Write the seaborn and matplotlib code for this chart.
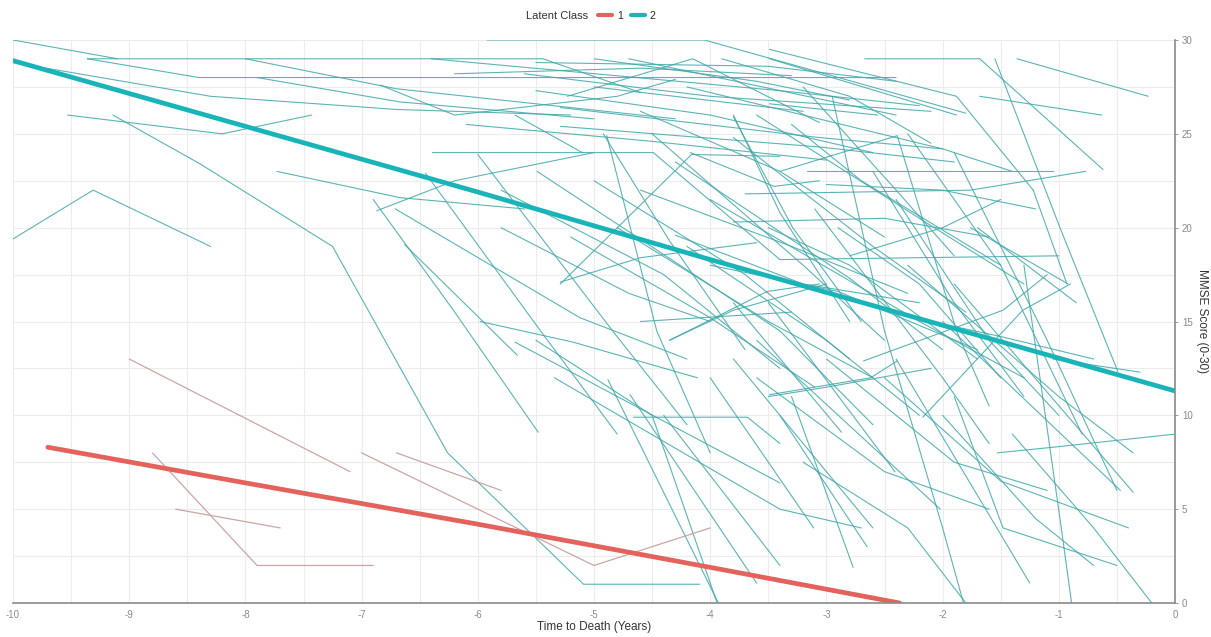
import numpy as np
import pandas as pd
import matplotlib
matplotlib.use("Agg")
import matplotlib.pyplot as plt
from matplotlib.lines import Line2D
import seaborn as sns

# Class-average MMSE trajectories
class1_mean_time = [-9.7, -8.0, -6.0, -4.0, -2.37]
class1_mean_mmse = [8.3, 6.4, 4.2, 1.9, 0.0]
class2_mean_time = [-10.0, -8.0, -6.0, -4.0, -2.0, 0.0]
class2_mean_mmse = [28.9, 25.4, 21.9, 18.3, 14.8, 11.3]

# Individual trajectories, one list of (years to death, MMSE) visits per person
class1_subjects = [
    [(-9.0, 13.0), (-7.1, 7.0)],
    [(-8.8, 8.0), (-7.9, 2.0), (-6.9, 2.0)],
    [(-8.6, 5.0), (-7.7, 4.0)],
    [(-7.0, 8.0), (-5.0, 2.0), (-4.0, 4.0)],
    [(-6.7, 8.0), (-5.8, 6.0)],
]

class2_upper = [
    [(-10.0, 30.0), (-9.1, 29.0)],
    [(-9.36, 29.0), (-5.44, 29.0), (-4.6, 27.2)],
    [(-10.0, 28.8), (-8.3, 27.0), (-6.7, 26.3), (-5.2, 26.0)],
    [(-9.36, 29.0), (-8.4, 28.0), (-2.4, 28.0)],
    [(-8.0, 29.0), (-6.7, 27.4), (-4.3, 25.8)],
    [(-7.9, 28.0), (-6.67, 26.7), (-5.0, 25.8)],
    [(-9.53, 26.0), (-8.2, 25.0), (-7.43, 26.0)],
    [(-5.92, 30.0), (-4.05, 30.0), (-1.8, 26.1)],
    [(-6.4, 29.0), (-3.4, 27.3), (-2.2, 26.5)],
    [(-5.23, 27.0), (-4.15, 29.0), (-3.06, 25.6)],
    [(-6.84, 27.6), (-6.2, 26.0), (-4.8, 27.0), (-4.3, 27.9)],
    [(-2.67, 29.0), (-1.68, 29.0), (-0.62, 23.1)],
    [(-1.55, 29.0), (-0.99, 20.0), (-0.49, 12.3)],
    [(-1.36, 29.0), (-0.23, 27.0)],
    [(-1.68, 27.0), (-0.63, 26.0)],
    [(-3.49, 29.5), (-1.88, 27.0), (-1.22, 22.0)],
    [(-3.49, 29.0), (-1.88, 26.0)],
    [(-3.49, 26.6), (-2.56, 26.0)],
    [(-5.6, 28.2), (-4.0, 27.0), (-2.1, 26.2)],
    [(-5.5, 28.8), (-3.5, 28.6), (-2.4, 27.8)],
    [(-4.7, 29.0), (-2.4, 26.0)],
    [(-5.0, 27.5), (-3.2, 26.2)],
    [(-6.1, 25.5), (-4.5, 24.6), (-3.0, 23.6)],
    [(-4.2, 27.5), (-2.0, 24.2), (-1.4, 23.0)],
    [(-5.68, 26.0), (-5.1, 24.0)],
    [(-2.95, 27.0), (-2.5, 14.5), (-2.0, 4.0), (-1.82, 0.0)],
    [(-5.29, 26.4), (-3.06, 24.8), (-2.0, 24.2)],
    [(-5.29, 25.4), (-3.06, 24.3), (-1.9, 23.5)],
    [(-3.2, 27.5), (-2.4, 22.0), (-1.9, 18.5)],
    [(-4.6, 26.2), (-3.4, 23.0), (-2.5, 19.5)],
    [(-5.5, 27.3), (-4.0, 26.0), (-2.6, 24.0)],
    [(-3.9, 29.0), (-2.8, 27.0), (-2.1, 24.5)],
    [(-6.2, 28.2), (-4.6, 28.5), (-3.3, 28.1)],
    [(-5.0, 29.0), (-3.6, 27.8), (-2.8, 26.8)],
]

class2_middle = [
    [(-10.0, 19.4), (-9.31, 22.0), (-8.3, 19.0)],
    [(-9.14, 26.0), (-8.39, 23.4), (-7.25, 19.0), (-6.26, 8.0), (-5.09, 1.0), (-4.09, 1.0)],
    [(-7.73, 23.0), (-6.67, 21.6), (-5.6, 21.0)],
    [(-6.87, 20.9), (-6.2, 22.5), (-5.0, 24.0)],
    [(-3.17, 23.0), (-1.05, 23.0)],
    [(-3.7, 21.8), (-1.76, 22.0), (-0.77, 23.0)],
    [(-3.4, 23.0), (-2.39, 24.9), (-1.88, 14.5), (-1.6, 10.5)],
    [(-6.39, 24.0), (-4.49, 24.0), (-3.4, 18.3)],
    [(-5.29, 17.0), (-4.16, 23.9), (-3.4, 23.8)],
    [(-6.71, 21.0), (-5.12, 15.2), (-4.2, 13.0)],
    [(-6.63, 19.1), (-5.66, 13.2)],
    [(-6.9, 21.5), (-6.21, 15.6), (-5.48, 9.1)],
    [(-5.98, 15.0), (-5.18, 13.9), (-4.11, 12.0)],
    [(-6.0, 23.9), (-4.84, 14.5), (-4.2, 9.5)],
    [(-6.45, 22.9), (-5.46, 14.5), (-4.8, 9.0)],
    [(-5.49, 23.0), (-3.4, 14.5), (-2.6, 9.5)],
    [(-4.35, 14.0), (-3.8, 15.6), (-3.0, 17.0)],
    [(-3.8, 26.0), (-3.4, 20.8), (-2.8, 15.0)],
    [(-4.89, 24.9), (-4.46, 14.5), (-4.0, 8.0)],
    [(-4.5, 25.0), (-3.2, 18.0), (-2.5, 14.0)],
    [(-4.3, 23.5), (-2.8, 17.3), (-2.0, 13.5)],
    [(-4.0, 21.5), (-2.2, 15.0), (-1.3, 12.0)],
    [(-3.8, 24.8), (-2.6, 19.0), (-1.8, 15.5)],
    [(-3.6, 26.0), (-2.2, 20.5), (-1.3, 17.0)],
    [(-3.3, 25.5), (-2.7, 22.5), (-1.5, 18.0)],
    [(-5.0, 22.5), (-3.7, 17.5), (-2.8, 13.0)],
    [(-4.8, 20.0), (-3.5, 15.0), (-2.6, 12.0)],
    [(-3.1, 21.0), (-2.0, 12.0), (-1.6, 8.5)],
    [(-2.6, 23.0), (-1.9, 16.0), (-1.3, 11.0)],
    [(-2.4, 21.5), (-1.6, 14.0), (-1.0, 10.0)],
    [(-3.5, 20.0), (-2.8, 18.0), (-1.7, 13.0)],
    [(-4.0, 18.0), (-2.9, 16.6), (-1.7, 13.5)],
    [(-2.1, 15.0), (-1.5, 14.2), (-0.7, 13.0)],
    [(-2.3, 25.0), (-1.5, 18.0), (-0.8, 9.0)],
    [(-1.9, 24.0), (-1.1, 14.0), (-0.5, 6.0)],
    [(-4.3, 19.6), (-3.2, 17.0), (-2.2, 16.0)],
    [(-3.0, 22.3), (-2.0, 22.0), (-1.2, 21.0)],
    [(-3.8, 20.3), (-2.5, 20.5), (-1.6, 19.5)],
    [(-2.8, 18.5), (-2.0, 20.0), (-1.5, 21.5)],
    [(-3.4, 18.3), (-1.0, 18.5)],
    [(-1.22, 22.0), (-0.93, 17.0)],
    [(-1.76, 20.0), (-0.92, 17.0)],
    [(-1.7, 20.0), (-0.85, 16.0)],
    [(-2.68, 12.9), (-1.48, 15.6), (-1.1, 17.5)],
    [(-2.17, 9.9), (-1.31, 15.6), (-0.9, 17.0)],
    [(-4.6, 15.0), (-3.3, 15.5)],
    [(-1.05, 13.0), (-0.3, 12.3)],
    [(-4.92, 25.0), (-4.35, 19.3), (-3.7, 13.5)],
    [(-4.17, 24.0), (-3.45, 22.2), (-3.06, 22.5)],
    [(-3.8, 25.9), (-3.29, 20.0), (-2.7, 15.0)],
    [(-4.35, 14.0), (-3.51, 16.6), (-3.06, 17.0)],
    [(-5.29, 17.1), (-4.6, 18.4), (-3.6, 19.2)],
    [(-5.8, 22.0), (-4.4, 17.5), (-3.4, 12.5)],
    [(-5.2, 19.5), (-4.0, 15.2), (-3.1, 11.5)],
    [(-4.6, 22.0), (-3.3, 19.0), (-2.3, 16.5)],
    [(-4.2, 19.0), (-3.0, 14.0), (-2.2, 10.0)],
    [(-5.8, 20.0), (-4.7, 16.5), (-4.0, 15.0)],
    [(-2.9, 20.0), (-2.2, 17.0), (-1.5, 12.0)],
]

class2_lower = [
    [(-4.88, 11.9), (-3.93, 0.0)],
    [(-4.69, 11.1), (-3.6, 1.06)],
    [(-4.66, 9.9), (-3.68, 9.9), (-3.4, 8.5)],
    [(-5.68, 13.9), (-3.4, 6.4)],
    [(-5.34, 12.0), (-3.4, 5.0), (-2.7, 4.0)],
    [(-5.5, 14.0), (-4.5, 10.0), (-3.94, 0.0)],
    [(-3.3, 11.0), (-2.77, 1.9)],
    [(-1.9, 11.0), (-1.48, 4.0), (-0.5, 2.0)],
    [(-1.3, 18.0), (-0.99, 4.5), (-0.89, 0.0)],
    [(-1.53, 8.0), (-1.05, 8.3), (0.0, 9.0)],
    [(-3.49, 11.1), (-2.62, 12.0), (-2.39, 12.9)],
    [(-1.9, 17.0), (-0.36, 5.9)],
    [(-2.0, 15.0), (-0.47, 6.0)],
    [(-2.3, 18.0), (-1.0, 11.0), (-0.36, 8.0)],
    [(-3.8, 13.0), (-2.6, 4.0)],
    [(-3.6, 14.0), (-2.02, 5.0)],
    [(-2.4, 13.0), (-1.25, 1.06)],
    [(-4.4, 10.0), (-3.4, 2.0)],
    [(-4.0, 12.0), (-3.11, 4.0)],
    [(-3.4, 10.0), (-2.65, 3.0)],
    [(-3.5, 16.0), (-2.41, 7.0)],
    [(-3.8, 16.0), (-2.87, 9.1)],
    [(-3.6, 12.0), (-2.5, 7.0), (-1.6, 5.0)],
    [(-3.0, 13.0), (-1.9, 7.5), (-1.1, 6.0)],
    [(-2.5, 12.0), (-1.5, 6.5), (-0.4, 4.0)],
    [(-2.0, 10.0), (-1.2, 4.5), (-0.7, 2.0)],
    [(-1.4, 9.0), (-0.7, 4.0), (-0.2, 0.0)],
    [(-3.2, 7.5), (-2.3, 4.0), (-1.8, 0.0)],
    [(-3.5, 11.0), (-3.0, 11.5), (-2.1, 12.5)],
]


def to_long(paths, latent_class, start_id):
    rows = []
    for i, path in enumerate(paths):
        for t, score in path:
            rows.append({"subject": start_id + i, "time": t, "mmse": score,
                         "latent_class": latent_class})
    return rows


rows = to_long(class1_subjects, "1", 0)
rows += to_long(class2_upper + class2_middle + class2_lower, "2", 1000)
indiv = pd.DataFrame(rows)

means = pd.DataFrame({
    "time": class1_mean_time + class2_mean_time,
    "mmse": class1_mean_mmse + class2_mean_mmse,
    "latent_class": ["1"] * len(class1_mean_time) + ["2"] * len(class2_mean_time),
})

sns.set_theme(style="white")
plt.rcParams["font.family"] = ["Liberation Sans", "DejaVu Sans"]

fig = plt.figure(figsize=(12.11, 6.37), dpi=100)
ax = fig.add_axes([13 / 1211, 1 - 603 / 637, (1175 - 13) / 1211, (603 - 40) / 637])

thin_palette = {"1": "#c9a1a1", "2": "#3fa7a9"}
mean_palette = {"1": "#e3625c", "2": "#18b4b8"}

sns.lineplot(data=indiv[indiv.latent_class == "2"], x="time", y="mmse",
             units="subject", estimator=None, sort=False,
             color=thin_palette["2"], linewidth=0.8, alpha=0.85, ax=ax, legend=False)
sns.lineplot(data=indiv[indiv.latent_class == "1"], x="time", y="mmse",
             units="subject", estimator=None, sort=False,
             color=thin_palette["1"], linewidth=0.9, alpha=0.95, ax=ax, legend=False)
sns.lineplot(data=means, x="time", y="mmse", hue="latent_class",
             palette=mean_palette, estimator=None, sort=False,
             linewidth=3.4, ax=ax, legend=False)

ax.set_xlim(-10, 0)
ax.set_ylim(0, 30)
ax.set_xticks(np.arange(-10, 1, 1))
ax.set_xticklabels([str(v) for v in range(-10, 1)])
ax.set_xticks(np.arange(-10, 0.01, 0.5), minor=True)
ax.set_yticks(np.arange(0, 31, 5))
ax.set_yticks(np.arange(0, 30.01, 2.5), minor=True)

ax.grid(True, which="both", color="#ececec", linewidth=0.8)
ax.set_axisbelow(True)

ax.yaxis.tick_right()
ax.yaxis.set_label_position("right")
for side in ("left", "top"):
    ax.spines[side].set_visible(False)
for side in ("right", "bottom"):
    ax.spines[side].set_color("#8a8a8a")
    ax.spines[side].set_linewidth(1.2)

ax.tick_params(axis="both", which="major", labelsize=7, colors="#8a8a8a",
               length=2, width=0.6, pad=3)
ax.tick_params(axis="both", which="minor", length=0)

ax.set_xlabel("Time to Death (Years)", fontsize=8.5, color="#333333", labelpad=1)
ax.set_ylabel("MMSE Score (0-30)", fontsize=8.5, color="#333333",
              rotation=270, labelpad=11)

fig.text(588 / 1211, 1 - 16 / 637, "Latent Class", fontsize=8, color="#333333",
         ha="right", va="center")
handles = [Line2D([], [], color=mean_palette["1"], linewidth=3),
           Line2D([], [], color=mean_palette["2"], linewidth=3)]
fig.legend(handles, ["1", "2"], loc="center left",
           bbox_to_anchor=(598 / 1211, 1 - 16 / 637), ncol=2, frameon=False,
           fontsize=7.5, handlelength=1.3, handletextpad=0.5, columnspacing=0.8,
           borderaxespad=0, borderpad=0)

fig.savefig("out.png", dpi=100, facecolor="white")
